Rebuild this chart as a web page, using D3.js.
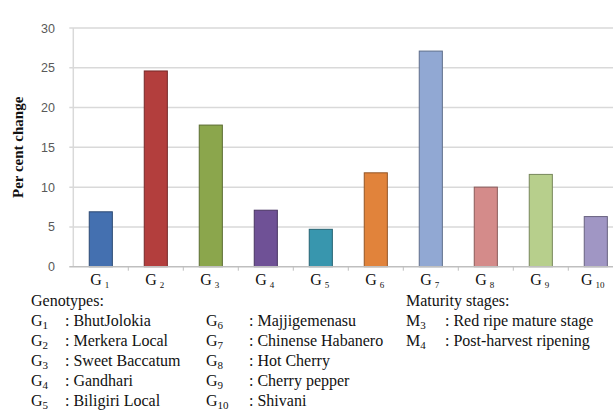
<!DOCTYPE html>
<html>
<head>
<meta charset="utf-8">
<script src="https://cdn.jsdelivr.net/npm/d3@7"></script>
<style>
  body { margin: 0; background: #fff; }
  svg { display: block; }
</style>
</head>
<body>
<div id="chart"></div>
<script>
// chart data
const genotypeCodes = ["1", "2", "3", "4", "5", "6", "7", "8", "9", "10"];
const percentChange = [6.9, 24.6, 17.8, 7.1, 4.7, 11.8, 27.1, 10.0, 11.6, 6.3];
const barColors = ["#4470b0", "#b33e3d", "#8ba64c", "#6f5196", "#3896ae", "#e1833b", "#91a8d3", "#d48b8a", "#b7cf8c", "#a096c4"];
const yTicks = [0, 5, 10, 15, 20, 25, 30];

const genotypeNames = ["BhutJolokia", "Merkera Local", "Sweet Baccatum", "Gandhari", "Biligiri Local",
                       "Majjigemenasu", "Chinense Habanero", "Hot Cherry", "Cherry pepper", "Shivani"];
const maturityCodes = ["3", "4"];
const maturityNames = ["Red ripe mature stage", "Post-harvest ripening"];

const width = 613, height = 410;
const margin = {top: 28, left: 73.3, bottom: 266.7};
const serif = "'Liberation Serif', 'Times New Roman', serif";

const svg = d3.select("#chart")
  .append("svg")
  .attr("width", width)
  .attr("height", height);

const data = genotypeCodes.map((c, i) => ({code: c, value: percentChange[i], color: barColors[i]}));

// scales
const x = d3.scaleBand()
  .domain(genotypeCodes)
  .range([margin.left, margin.left + 550])
  .paddingInner(0.58)
  .paddingOuter(0.29);

const y = d3.scaleLinear()
  .domain([0, 30])
  .range([margin.bottom, margin.top]);

// gridlines
svg.append("g")
  .selectAll("line")
  .data(yTicks.filter(d => d > 0))
  .join("line")
    .attr("x1", margin.left - 4)
    .attr("x2", width)
    .attr("y1", d => y(d))
    .attr("y2", d => y(d))
    .attr("stroke", "#d9d9d9")
    .attr("stroke-width", 1.5);

// y axis line
svg.append("line")
  .attr("x1", margin.left).attr("x2", margin.left)
  .attr("y1", y(30)).attr("y2", y(0))
  .attr("stroke", "#d9d9d9")
  .attr("stroke-width", 1.5);

// y tick labels
svg.append("g")
  .selectAll("text")
  .data(yTicks)
  .join("text")
    .attr("x", 55)
    .attr("y", d => y(d) + 4.5)
    .attr("text-anchor", "end")
    .attr("font-family", "'Liberation Sans', Arial, sans-serif")
    .attr("font-size", 12.5)
    .attr("fill", "#595959")
    .text(d => d);

// y title
svg.append("text")
  .attr("transform", `translate(23, ${(y(0) + y(30)) / 2}) rotate(-90)`)
  .attr("text-anchor", "middle")
  .attr("font-family", serif)
  .attr("font-weight", "bold")
  .attr("font-size", 15)
  .attr("fill", "#111")
  .text("Per cent change");

// bars
svg.append("g")
  .selectAll("rect")
  .data(data)
  .join("rect")
    .attr("x", d => x(d.code))
    .attr("y", d => y(d.value))
    .attr("width", x.bandwidth())
    .attr("height", d => y(0) - y(d.value))
    .attr("fill", d => d.color)
    .attr("stroke", d => d3.color(d.color).darker(1.2))
    .attr("stroke-width", 1);

// x axis line with ticks between categories
svg.append("line")
  .attr("x1", margin.left - 4).attr("x2", width)
  .attr("y1", y(0)).attr("y2", y(0))
  .attr("stroke", "#bfbfbf")
  .attr("stroke-width", 1.5);

svg.append("g")
  .selectAll("line")
  .data(genotypeCodes.slice(1))
  .join("line")
    .attr("x1", d => x(d) - x.step() * x.paddingInner() / 2)
    .attr("x2", d => x(d) - x.step() * x.paddingInner() / 2)
    .attr("y1", y(0))
    .attr("y2", y(0) + 4)
    .attr("stroke", "#bfbfbf")
    .attr("stroke-width", 1);

// x labels G with subscript
const xLab = svg.append("g")
  .selectAll("text")
  .data(genotypeCodes)
  .join("text")
    .attr("x", d => x(d) + x.bandwidth() / 2 + (d.length > 1 ? -3 : -1))
    .attr("y", 285)
    .attr("text-anchor", "middle")
    .attr("font-family", serif)
    .attr("font-size", 16)
    .attr("fill", "#111");
xLab.append("tspan").text("G");
xLab.append("tspan")
  .attr("dx", 3)
  .attr("dy", 3)
  .attr("font-size", 9)
  .text(d => d);

// legend
const legend = svg.append("g")
  .attr("font-family", serif)
  .attr("font-size", 16)
  .attr("fill", "#111");

function codeText(g, letter, sub, xPos, yPos) {
  const t = g.append("text").attr("x", xPos).attr("y", yPos);
  t.append("tspan").text(letter);
  t.append("tspan").attr("dy", 2.5).attr("font-size", 11).text(sub);
}

legend.append("text").attr("x", 31).attr("y", 306).text("Genotypes:");
genotypeCodes.forEach((c, i) => {
  const col = i < 5 ? 0 : 1;
  const row = i % 5;
  const gx = col === 0 ? 31 : 206;
  const nx = col === 0 ? 65 : 249;
  const ry = 326 + row * 20;
  codeText(legend, "G", c, gx, ry);
  legend.append("text").attr("x", nx).attr("y", ry).text(": " + genotypeNames[i]);
});

legend.append("text").attr("x", 406).attr("y", 306).text("Maturity stages:");
maturityCodes.forEach((c, i) => {
  const ry = 326 + i * 20;
  codeText(legend, "M", c, 406, ry);
  legend.append("text").attr("x", 445).attr("y", ry).text(": " + maturityNames[i]);
});
</script>
</body>
</html>
